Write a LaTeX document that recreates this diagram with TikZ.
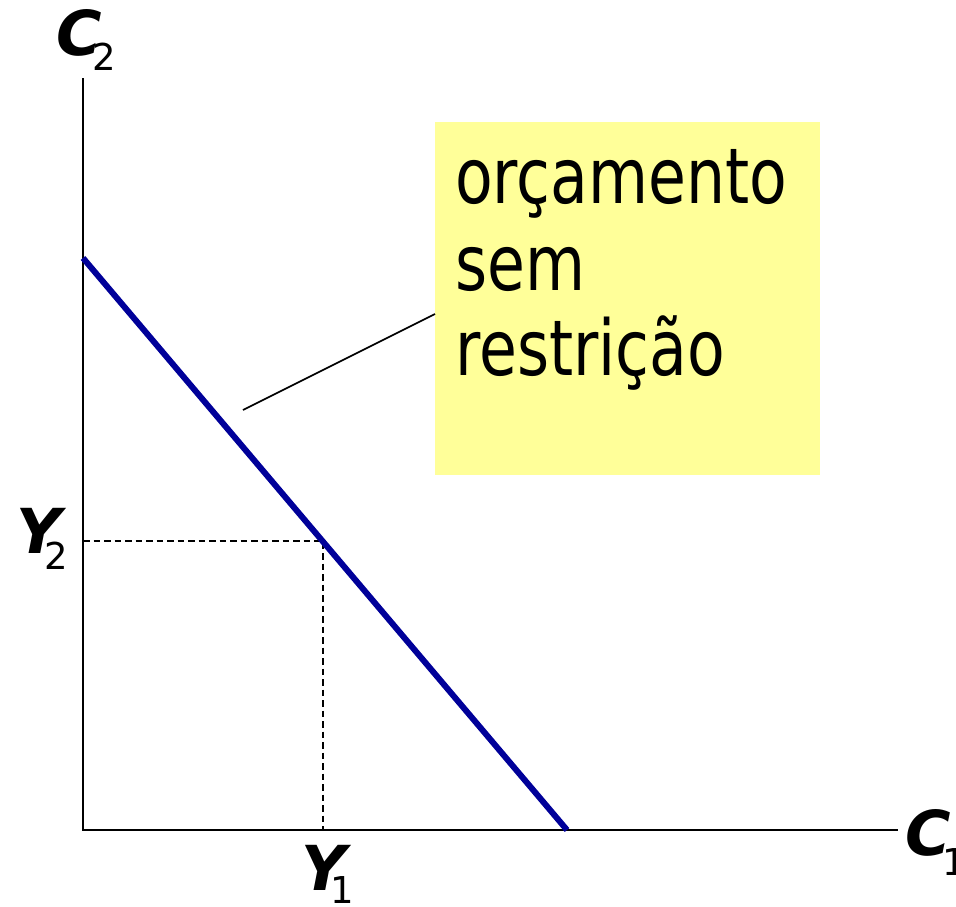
\documentclass[tikz,border=0pt]{standalone}
\usepackage{fontspec}
\setmainfont{DejaVu Sans}
\newfontfamily\boxfont{DejaVu Sans}[FakeStretch=0.8]
\definecolor{boxyellow}{RGB}{255,255,153}
\definecolor{lineblue}{RGB}{0,0,153}
\begin{document}
\begin{tikzpicture}[x=1pt,y=1pt,
  axis/.style={line width=2.6pt,black},
  budget/.style={line width=6pt,lineblue},
  guide/.style={line width=1.4pt,dash pattern=on 6.5pt off 4pt},
  leader/.style={line width=1.6pt},
  lab/.style={anchor=base west,inner sep=0pt,font=\fontsize{62}{62}\selectfont\bfseries\itshape},
  boxtext/.style={anchor=base west,inner sep=0pt,font=\boxfont\fontsize{77}{77}\selectfont}]
\useasboundingbox (0,0) rectangle (956,-906);
% coordinates
\coordinate (O) at (83,-830);
\coordinate (top) at (83,-78);
\coordinate (right) at (898,-830);
\coordinate (A) at (83,-258);
\coordinate (B) at (567,-830);
\coordinate (P) at (323,-541);
\coordinate (lead) at (243,-410);
\coordinate (leadbox) at (435,-314);
% yellow box
\node[fill=boxyellow,inner sep=0pt,minimum width=385pt,minimum height=353pt,anchor=north west] (box) at (435,-122) {};
\node[boxtext] (t1) at (455,-203) {orçamento};
\node[boxtext] (t2) at (455,-290) {sem};
\node[boxtext] (t3) at (455,-375) {restrição};
% axes
\draw[axis] (top) -- (O) -- (right);
% dashed guides
\draw[guide] (O |- P) -- (P) -- (P |- O);
% budget line
\draw[budget] (A) -- (B);
% leader
\draw[leader] (lead) -- (leadbox);
% labels
\newcommand\mysub[2]{\raisebox{#1}{\mdseries\upshape\fontsize{37}{37}\selectfont #2}}
\node[lab] (c2) at (56,-55) {C\kern-9pt\mysub{-15pt}{2}};
\node[lab] (y2) at (16,-553) {Y\kern-17pt\mysub{-16pt}{2}};
\node[lab] (y1) at (301,-890) {Y\kern-16pt\mysub{-13pt}{1}};
\node[lab] (c1) at (905,-855) {C\kern-8pt\mysub{-20pt}{1}};
\end{tikzpicture}
\end{document}
